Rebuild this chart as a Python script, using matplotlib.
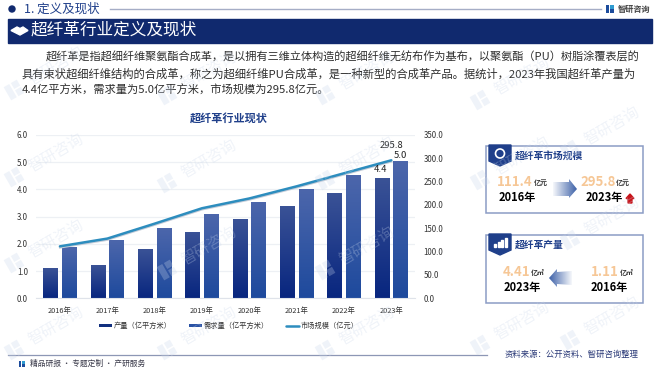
import numpy as np
import matplotlib
matplotlib.use("Agg")
import matplotlib.pyplot as plt
from matplotlib.colors import LinearSegmentedColormap, to_rgb
from matplotlib.patches import Polygon, Rectangle, Circle
from matplotlib.transforms import Affine2D

plt.rcParams['font.family'] = ['Noto Sans CJK SC', 'DejaVu Sans']

years = ["2016年", "2017年", "2018年", "2019年", "2020年", "2021年", "2022年", "2023年"]
output = [1.1, 1.2, 1.78, 2.4, 2.9, 3.35, 3.85, 4.4]
demand = [1.85, 2.1, 2.55, 3.05, 3.5, 4.0, 4.5, 5.0]
market = [111.4, 128, 160, 193, 214, 240, 268, 295.8]
left_ticks = [0, 1, 2, 3, 4, 5, 6]
right_ticks = [0, 50, 100, 150, 200, 250, 300, 350]

W, H = 660, 371
NAVY = "#10296e"
BLUE = "#1f3f8a"
ORANGE = "#f6c796"

fig = plt.figure(figsize=(W / 100, H / 100), dpi=100)


def px_axes(zorder):
    a = fig.add_axes([0, 0, 1, 1], zorder=zorder)
    a.set_xlim(0, W)
    a.set_ylim(H, 0)
    a.axis("off")
    return a


def gradient_bars(ax, bars, top, bottom):
    cmap = LinearSegmentedColormap.from_list("g", [top, bottom])
    grad = np.linspace(0, 1, 64).reshape(-1, 1)
    for b in bars:
        x0, y0 = b.get_x(), b.get_y()
        ax.imshow(grad, cmap=cmap, aspect="auto", zorder=2,
                  extent=[x0, x0 + b.get_width(), y0, y0 + b.get_height()])


def gradient_arrow(ax, pts, color, flip=False):
    rgb = to_rgb(color)
    xs = [p[0] for p in pts]
    ys = [p[1] for p in pts]
    alpha = np.linspace(0.05, 1, 64)
    if flip:
        alpha = alpha[::-1]
    img = np.ones((1, 64, 4))
    img[..., :3] = rgb
    img[0, :, 3] = alpha
    im = ax.imshow(img, aspect="auto", zorder=3,
                   extent=[min(xs), max(xs), max(ys), min(ys)])
    patch = Polygon(pts, closed=True, fc="none", ec="none", transform=ax.transData)
    ax.add_patch(patch)
    im.set_clip_path(patch)
    ax.set_xlim(0, W)
    ax.set_ylim(H, 0)


def mark_logo(ax, cx, cy, c1, c2, s=1.0, angle=0, alpha=1.0):
    # little company logo made of three blocks
    tr = Affine2D().scale(s).rotate_deg(angle).translate(cx, cy) + ax.transData
    for (x0, y0, w, h, c) in [(-4, -4, 3.4, 8, c1), (0.4, -4, 3.6, 3.6, c2), (0.4, 0.4, 3.6, 3.6, c1)]:
        ax.add_patch(Rectangle((x0, y0), w, h, fc=c, ec="none", alpha=alpha, transform=tr))


# chart
ax = fig.add_axes([36.3 / W, 1 - 298.3 / H, (415 - 36.3) / W, (298.3 - 135) / H], zorder=2)
ax.patch.set_alpha(0)
x = np.arange(len(years))
b1 = ax.bar(x - 0.195, output, 0.31, color="#12307f", zorder=2)
b2 = ax.bar(x + 0.195, demand, 0.31, color="#2a52a4", zorder=2)
gradient_bars(ax, b1, "#3a5296", "#08267f")
gradient_bars(ax, b2, "#4c66ab", "#1e4a9d")
ax.set_xlim(-0.5, len(years) - 0.5)
ax.set_ylim(0, 6)
ax.set_yticks(left_ticks)
ax.set_yticklabels([f"{v:.1f}" for v in left_ticks])
ax.set_xticks(x)
ax.set_xticklabels(years)
ax.tick_params(axis="y", length=0, labelsize=5.7, colors="#333333", pad=6)
ax.tick_params(axis="x", length=0, labelsize=5.3, colors="#333333", pad=6.5)
ax.grid(axis="y", color="#edf0f4", lw=0.9, zorder=0)
ax.set_axisbelow(True)
for s in ["top", "left", "right"]:
    ax.spines[s].set_visible(False)
ax.spines["bottom"].set_color("#dfe3ea")

ax2 = ax.twinx()
ax2.set_zorder(3)
ax2.patch.set_alpha(0)
ax2.plot(x, np.array(market) - 2.5, color="#c5ccd8", lw=1.6, zorder=2)
line, = ax2.plot(x, market, color="#2d8dbe", lw=1.8, zorder=3, solid_capstyle="round")
ax2.set_ylim(0, 350)
ax2.set_yticks(right_ticks)
ax2.set_yticklabels([f"{v:.1f}" for v in right_ticks])
ax2.tick_params(length=0, labelsize=5.7, colors="#333333", pad=6)
for s in ax2.spines.values():
    s.set_visible(False)

lab = dict(textcoords="offset points", ha="center", va="bottom", fontsize=6.8, color="#222222", zorder=6)
ax2.annotate(f"{market[-1]:.1f}", (x[-1], market[-1]), xytext=(0, 7.5), **lab)
ax2.annotate(f"{demand[-1]:.1f}", (x[-1] + 0.195, demand[-1] * 350 / 6), xytext=(0, 1.5), **lab)
ax2.annotate(f"{output[-1]:.1f}", (x[-1] - 0.195, output[-1] * 350 / 6), xytext=(-1, 3), **lab)

fig.legend([b1, b2, line], ["产量（亿平方米）", "需求量（亿平方米）", "市场规模（亿元）"],
           loc="center", bbox_to_anchor=(229 / W, 1 - 326 / H), ncol=3, frameon=False,
           fontsize=5.2, labelcolor="#333333", handlelength=1.8, handleheight=0.4,
           handletextpad=0.3, columnspacing=2.3)

# page furniture
pg = px_axes(1)
pg.add_patch(Circle((12, 9), 3, color=NAVY))
pg.text(24, 9, "1. 定义及现状", fontsize=9, color=BLUE, va="center")
pg.plot([110, 601], [9, 9], color="#a5adc6", lw=1)
pg.add_patch(Rectangle((8, 19), 644, 23.5, color=NAVY))
pg.add_patch(Polygon([(11, 30.5), (17, 27), (20, 28.5), (23, 27), (28, 30.5), (20, 35)], color="white"))
pg.text(31, 30.5, "超纤革行业定义及现状", fontsize=12, color="white", va="center")
mark_logo(pg, 610, 9, "#1d4c9c", "#2f9bd0", s=1.1)
pg.text(618, 9, "智研咨询", fontsize=5.9, color="#444444", va="center", fontweight="bold")

para = ["超纤革是指超细纤维聚氨酯合成革，是以拥有三维立体构造的超细纤维无纺布作为基布，以聚氨酯（PU）树脂涂覆表层的",
        "具有束状超细纤维结构的合成革，称之为超细纤维PU合成革，是一种新型的合成革产品。据统计，2023年我国超纤革产量为",
        "4.4亿平方米，需求量为5.0亿平方米，市场规模为295.8亿元。"]
pg.text(46, 57, para[0], fontsize=8.05, color="#2e2e2e", va="center")
pg.text(22, 74, para[1], fontsize=8.15, color="#2e2e2e", va="center")
pg.text(22, 90, para[2], fontsize=8.1, color="#2e2e2e", va="center")
pg.text(229, 118, "超纤革行业现状", fontsize=8, color=BLUE, ha="center", va="center", fontweight="bold")

pg.plot([8, 487], [355, 355], color="#8d97b5", lw=0.9)
mark_logo(pg, 22, 364, "#1d4c9c", "#2f9bd0", s=0.85)
pg.text(30, 364, "精品研报 · 专题定制 · 产研服务", fontsize=5.6, color="#3a3a4a", va="center")
pg.text(505, 354, "资料来源：公开资料、智研咨询整理", fontsize=6, color="#2b3a78", va="center")


def card(y0, y1, title):
    pg.add_patch(Rectangle((486, y0), 157, y1 - y0, fc="white", ec="#8b9cc5", lw=1.1))
    pg.add_patch(Polygon([(489, y0 - 1), (511, y0 - 1), (511, y0 + 15), (500, y0 + 20), (489, y0 + 15)],
                         color=BLUE, zorder=3))
    pg.text(515, y0 + 9.5, title, fontsize=7, color=BLUE, va="center", fontweight="bold")


card(146, 213, "超纤革市场规模")
card(235, 303, "超纤革产量")
# badge icons
pg.add_patch(Circle((500, 153.5), 4.5, fc="none", ec="white", lw=1.2, zorder=4))
for bx, bh in [(494, 3), (497.5, 5), (501, 7), (504.5, 9)]:
    pg.add_patch(Rectangle((bx, 247 - bh), 2.4, bh, color="white", zorder=4))

pg.text(497, 182, "111.4", fontsize=9.5, color=ORANGE, va="center", fontweight="bold")
pg.text(534, 183, "亿元", fontsize=5, color="#333333", va="center", fontweight="bold")
pg.text(499, 198, "2016年", fontsize=8, color="black", va="center", fontweight="bold")
pg.text(580, 182, "295.8", fontsize=9.5, color=ORANGE, va="center", fontweight="bold")
pg.text(616, 183, "亿元", fontsize=5, color="#333333", va="center", fontweight="bold")
pg.text(586, 198, "2023年", fontsize=8, color="black", va="center", fontweight="bold")
pg.add_patch(Polygon([(630, 194), (626, 198.5), (628, 198.5), (628, 203), (632, 203), (632, 198.5), (634, 198.5)],
                     color="#c8141a"))
gradient_arrow(pg, [(553, 182), (569, 182), (569, 179), (577, 189), (569, 198), (569, 196), (553, 196)], "#3d61a8")

pg.text(503, 272, "4.41", fontsize=9.5, color=ORANGE, va="center", fontweight="bold")
pg.text(531, 272.5, "亿㎡", fontsize=5, color="#333333", va="center", fontweight="bold")
pg.text(504, 288, "2023年", fontsize=8, color="black", va="center", fontweight="bold")
pg.text(591, 272, "1.11", fontsize=9.5, color=ORANGE, va="center", fontweight="bold")
pg.text(620, 272.5, "亿㎡", fontsize=5, color="#333333", va="center", fontweight="bold")
pg.text(591, 288, "2016年", fontsize=8, color="black", va="center", fontweight="bold")
gradient_arrow(pg, [(549, 278), (557, 269), (557, 272), (572, 271), (572, 285), (557, 284), (557, 287)],
               "#3d61a8", flip=True)

# faint watermark on top of everything
wm = px_axes(10)
for wx, wy in [(14, 177), (167, 183), (14, 263), (167, 95), (325, 180), (325, 95), (480, 100),
               (167, 270), (325, 270), (480, 180), (480, 345), (14, 350), (167, 350), (325, 350),
               (570, 150), (570, 240), (570, 340), (14, 90)]:
    mark_logo(wm, wx, wy, "#c9d6ea", "#c9d6ea", s=1.9, angle=-30, alpha=0.28)
    wm.text(wx + 42, wy - 24, "智研咨询", fontsize=11, color="#c9d6ea", alpha=0.28, rotation=30,
            ha="center", va="center")

plt.savefig("out.png", dpi=100)
plt.close()
